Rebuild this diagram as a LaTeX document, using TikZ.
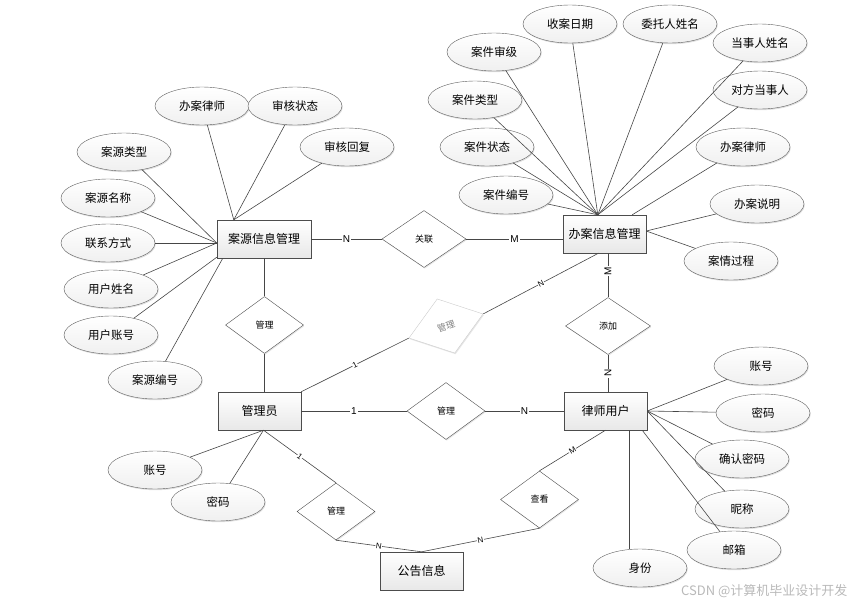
\documentclass[tikz,border=0pt]{standalone}
\usepackage{fontspec}
\setmainfont{Liberation Sans}
\newfontfamily\cjk{Noto Sans CJK SC}
\usetikzlibrary{shapes.geometric,calc,shadows}

\begin{document}
\begin{tikzpicture}[x=1pt,y=-1pt]
	% size of each node
	\def\szw{94pt}
	\def\szh{38pt}
	\def\entw{83pt}
	% node style definition
	\tikzstyle{attr} = [draw=gray!75!black, ellipse, top color=white, bottom color=gray!12, minimum width=\szw, minimum height=\szh, inner sep=0pt, font=\cjk\fontsize{11.5}{13}\selectfont, drop shadow={opacity=0.25, shadow xshift=0.8pt, shadow yshift=-1.2pt}]
	\tikzstyle{ent} = [draw=gray!60!black, rectangle, top color=white, bottom color=gray!18, minimum width=\entw, minimum height=\szh, font=\cjk\fontsize{12}{14}\selectfont, drop shadow={opacity=0.25, shadow xshift=0.8pt, shadow yshift=-1.2pt}]
	\tikzstyle{rel} = [draw=gray!60!black, fill=white, diamond, minimum width=78pt, minimum height=57pt, inner sep=0pt, font=\cjk\fontsize{9}{10}\selectfont, drop shadow={opacity=0.2, shadow xshift=0.8pt, shadow yshift=-1.2pt}]
	\tikzstyle{card} = [fill=white, inner sep=1pt, font=\fontsize{10}{11}\selectfont]
	\tikzstyle{cards} = [fill=white, inner sep=0.5pt, font=\fontsize{8}{9}\selectfont]
	\tikzstyle{link} = [draw=gray!55!black, line width=0.6pt]
	\useasboundingbox (0,0) rectangle (854,605);
	% entities
	\node[ent, minimum width=\szw] (ay) at (264,239) {案源信息管理};
	\node[ent] (ban) at (604.5,234) {办案信息管理};
	\node[ent] (admin) at (259.5,411) {管理员};
	\node[ent] (ls) at (605.5,411) {律师用户};
	\node[ent] (gg) at (421.5,571) {公告信息};
	% relations
	\node[rel, minimum width=84pt] (gl1) at (424,239) {关联};
	\node[rel] (gl2) at (264.5,325) {管理};
	\node[rel, draw=gray!40, text=gray, drop shadow={opacity=0}, rotate=18] (gl5) at (446,326) {管理};
	\node[rel, minimum width=85pt] (tj) at (608,326) {添加};
	\node[rel] (gl3) at (446,411) {管理};
	\node[rel] (gl4) at (336,511.5) {管理};
	\node[rel] (ck) at (539.5,499.5) {查看};
	% attributes of 案源信息管理
	\node[attr] (ay1) at (202,106) {办案律师};
	\node[attr] (ay2) at (295,106) {审核状态};
	\node[attr] (ay3) at (347,147) {审核回复};
	\node[attr] (ay4) at (124,152) {案源类型};
	\node[attr] (ay5) at (108,198) {案源名称};
	\node[attr] (ay6) at (108,243) {联系方式};
	\node[attr] (ay7) at (111,289) {用户姓名};
	\node[attr] (ay8) at (111,335) {用户账号};
	\node[attr] (ay9) at (155,380) {案源编号};
	% attributes of 办案信息管理
	\node[attr] (b1) at (570,24) {收案日期};
	\node[attr] (b2) at (670,24) {委托人姓名};
	\node[attr] (b3) at (494,52) {案件审级};
	\node[attr] (b4) at (760,43) {当事人姓名};
	\node[attr] (b5) at (475,100) {案件类型};
	\node[attr] (b6) at (760,90) {对方当事人};
	\node[attr] (b7) at (487,147) {案件状态};
	\node[attr] (b8) at (743,147) {办案律师};
	\node[attr] (b9) at (506,195) {案件编号};
	\node[attr] (b10) at (757,204) {办案说明};
	\node[attr] (b11) at (731,261) {案情过程};
	% attributes of 律师用户
	\node[attr] (l1) at (761,366) {账号};
	\node[attr] (l2) at (763,413) {密码};
	\node[attr] (l3) at (742,459) {确认密码};
	\node[attr] (l4) at (742,509) {昵称};
	\node[attr] (l5) at (734,550) {邮箱};
	\node[attr] (l6) at (640,568) {身份};
	% attributes of 管理员
	\node[attr] (a1) at (155,470) {账号};
	\node[attr] (a2) at (218,502) {密码};
	% end points on the boxes
	\coordinate (ay-top) at ($(ay.north west)+(17,0)$);
	\coordinate (ay-left) at ($(ay.west)+(0,4)$);
	\coordinate (ay-low) at ($(ay.south west)+(0,-1)$);
	\coordinate (ay-bot) at ($(ay.south west)+(6,0)$);
	\coordinate (ban-top) at ($(ban.north west)+(35,0)$);
	\coordinate (ban-tr) at ($(ban.north east)+(-14,0)$);
	\coordinate (ban-right) at ($(ban.east)+(0,-3)$);
	\coordinate (ban-bot) at ($(ban.south)+(-6,0)$);
	\coordinate (ls-bl) at ($(ls.south east)+(-5,0)$);
	\coordinate (ls-sf) at ($(ls.south east)+(-18,0)$);
	\coordinate (ad-bot) at ($(admin.south)+(4,0)$);
	% attribute lines
	\foreach \a in {ay1,ay2,ay3} \draw[link] (\a) -- (ay-top);
	\foreach \a in {ay4,ay5,ay6,ay7} \draw[link] (\a) -- (ay-left);
	\draw[link] (ay8) -- (ay-low);
	\draw[link] (ay9) -- (ay-bot);
	\foreach \a in {b1,b2,b3,b4,b5,b6,b7,b9} \draw[link] (\a) -- (ban-top);
	\draw[link] (b8) -- (ban-tr);
	\foreach \a in {b10,b11} \draw[link] (\a) -- (ban-right);
	\foreach \a in {l1,l2,l3,l4} \draw[link] (\a) -- (ls.east);
	\draw[link] (l5) -- (ls-bl);
	\draw[link] (ls-sf) -- (ls-sf |- l6.north);
	\foreach \a in {a1,a2} \draw[link] (\a) -- (ad-bot);
	% relation lines
	\draw[link] (ay) -- node[card] {N} (gl1);
	\draw[link] (gl1.east) -- node[card] {M} (gl1.east -| ban.west);
	\draw[link] (gl2.north) -- (gl2.north |- ay.south);
	\draw[link] (gl2.south) -- (gl2.south |- admin.north);
	\draw[link] (admin.north east) -- node[cards, sloped] {1} (gl5.west);
	\draw[link] (gl5.east) -- node[cards, sloped] {N} (ban-bot);
	\draw[link] (tj.north |- ban.south) -- node[card, rotate=90, pos=0.4] {M} (tj.north);
	\draw[link] (tj.south) -- node[card, rotate=90] {N} (tj.south |- ls.north);
	\draw[link] (admin) -- node[card] {1} (gl3);
	\draw[link] (gl3) -- node[card] {N} (ls);
	\draw[link] (ad-bot) -- node[cards, sloped] {1} (gl4.north);
	\draw[link] (gl4.south) -- node[cards, sloped] {N} (gg.north);
	\draw[link] (ls.south) -- node[cards, sloped] {M} (ck.north);
	\draw[link] (ck.south) -- node[cards, sloped] {N} (gg.north);
	% watermark
	\node[text=gray!55, font=\cjk\fontsize{13}{15}\selectfont, anchor=east] (wm) at (851,591) {CSDN @计算机毕业设计开发};
\end{tikzpicture}
\end{document}
